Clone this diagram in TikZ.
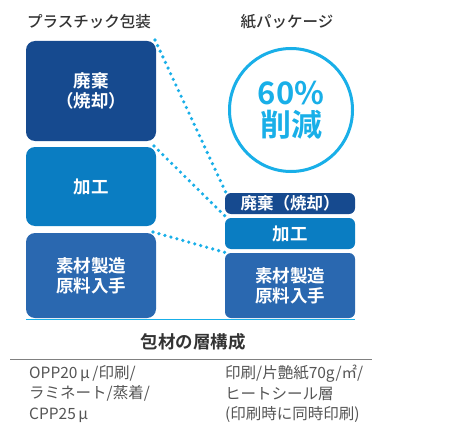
\documentclass[tikz,border=0pt]{standalone}
\usepackage{fontspec}
\newfontfamily\cjk{Noto Sans CJK JP}
\newfontfamily\cjkm{Noto Sans CJK JP Medium}
\newfontfamily\cjkb{Noto Sans CJK JP Bold}
\definecolor{dkblue}{HTML}{164A8F}
\definecolor{midblue}{HTML}{0A7DC2}
\definecolor{stblue}{HTML}{2A68B0}
\definecolor{ltblue}{HTML}{19AFE8}
\definecolor{txtgray}{HTML}{555555}
\definecolor{ttlgray}{HTML}{333333}
\tikzset{
  blk/.style={fill=#1, rounded corners=9pt, inner sep=0pt, outer sep=0pt, minimum width=130pt,
    text=white, align=center, font=\cjkb\fontsize{17.5}{20}\selectfont},
  sblk/.style={blk=#1, rounded corners=6pt},
  dots/.style={ltblue, line width=3.6pt, line cap=round, dash pattern=on 0pt off 6.2pt},
  ttl/.style={font=\cjkm\fontsize{15.5}{17}\selectfont, text=ttlgray, inner sep=0pt},
  body/.style={font=\cjk\fontsize{15.5}{20.5}\selectfont, text=txtgray, inner sep=0pt, align=left, anchor=north west},
}
\begin{document}
\begin{tikzpicture}[x=1pt,y=-1pt]
\useasboundingbox (0,0) rectangle (462,422);
\node[ttl] (t1) at (89,22) {プラスチック包装};
\node[ttl] (t2) at (287,22) {紙パッケージ};
\node[blk=dkblue, minimum height=100pt] (L1) at (91,91) {廃棄\\（焼却）};
\node[blk=midblue, minimum height=79pt] (L2) at (91,186.5) {加工};
\node[blk=stblue, minimum height=85pt] (L3) at (91,275.5) {素材製造\\原料入手};
\node[sblk=dkblue, minimum height=21pt, font=\cjkb\fontsize{16.5}{18}\selectfont] (R1) at (290,203.5) {廃棄（焼却）};
\node[sblk=midblue, minimum height=31pt] (R2) at (290,233.5) {加工};
\node[sblk=stblue, minimum height=65pt] (R3) at (290,285.5) {素材製造\\原料入手};
\node[circle, draw=ltblue, line width=3pt, minimum size=123pt, inner sep=0pt, text=ltblue, align=center,
  font=\cjkb\fontsize{31}{32}\selectfont] (C) at (291,110) {60\%\\削減};
\draw[dots] ([xshift=-1pt,yshift=1pt]L1.north east) -- ([xshift=2pt,yshift=-2pt]R1.north west);
\draw[dots] ([xshift=-2pt,yshift=1pt]L2.north east) -- ([xshift=2pt]R2.north west);
\draw[dots] ([xshift=-3pt,yshift=1pt]L3.north east) -- ([xshift=2pt]R3.north west);
\coordinate (b1) at (26,319.5);
\coordinate (b2) at (355,319.5);
\draw[ltblue, line width=1.8pt] (b1) -- (b2);
\node[font=\cjkb\fontsize{17.5}{18}\selectfont, text=ttlgray, inner sep=0pt] (h) at (193,342) {包材の層構成};
\coordinate (g1) at (10,359);
\coordinate (g2) at (372,359);
\draw[gray, line width=1pt] (g1) -- (g2);
\node[body] (p) at (29,365) {OPP20\,μ\,/印刷/\\ラミネート/蒸着/\\CPP25\,μ};
\node[body] (q) at (225,365) {印刷/片艶紙70g/㎡/\\ヒートシール層\\(印刷時に同時印刷)};
\end{tikzpicture}
\end{document}
